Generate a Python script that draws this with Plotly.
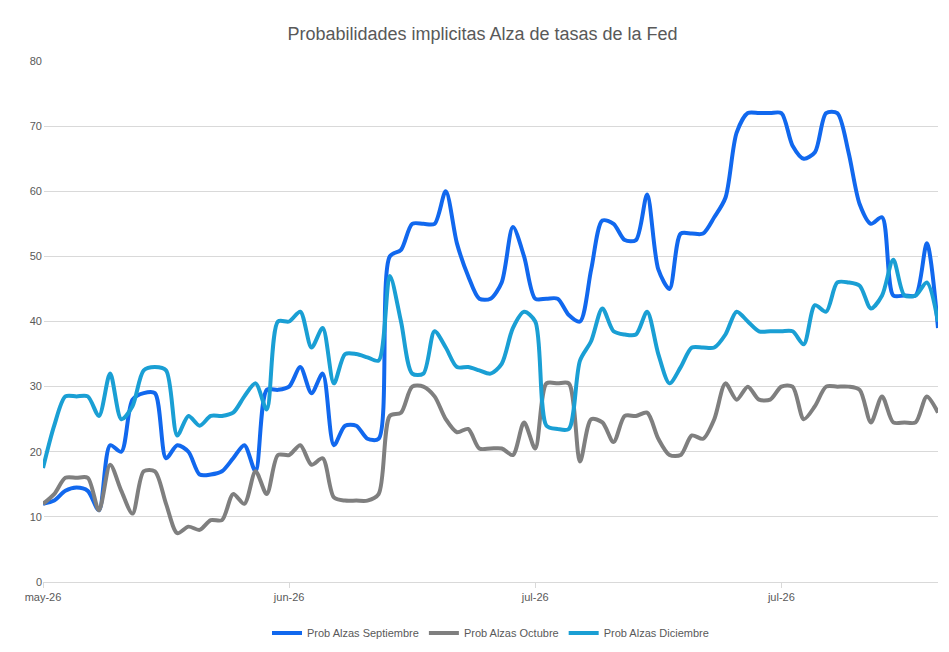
import plotly.graph_objects as go

x_idx = list(range(81))
tick_pos = [0, 22, 44, 66]
tick_labels = ["may-26", "jun-26", "jul-26", "jul-26"]

prob_sep = [12, 12.5, 14, 14.5, 14, 11, 21, 20, 28, 29, 29, 19, 21, 20, 16.5, 16.5, 17, 19, 21, 17,
            29.5, 29.5, 30, 33, 29, 32, 21, 24, 24, 22, 22, 50, 51, 55, 55, 55, 60, 52, 47, 43.5,
            43.5, 46, 54.5, 50, 43.5, 43.5, 43.5, 41, 40, 48, 55.5, 55, 52.5, 52.5, 59.5, 48, 45, 53.5, 53.5, 53.5,
            56, 59, 69, 72, 72, 72, 72, 67, 65, 66, 72, 72, 66, 58, 55, 56, 44, 44, 44, 52, 39]
prob_oct = [12, 13.5, 16, 16, 16, 11, 18, 14, 10.5, 17, 17, 12, 7.5, 8.5, 8, 9.5, 9.5, 13.5, 12, 17,
            13.5, 19.5, 19.5, 21, 18, 19, 13, 12.5, 12.5, 12.5, 13.5, 25.5, 26, 30, 30, 28.5, 25, 23, 23.5, 20.5,
            20.5, 20.5, 19.5, 24.5, 20.5, 30.5, 30.5, 30.5, 18.5, 25, 24.5, 21.5, 25.5, 25.5, 26, 22, 19.5, 19.5, 22.5, 22,
            25, 30.5, 28, 30, 28, 28, 30, 30, 25, 27, 30, 30, 30, 29.5, 24.5, 28.5, 24.5, 24.5, 24.5, 28.5, 26]
prob_dic = [17.5, 24, 28.5, 28.5, 28.5, 25.5, 32, 25, 27, 32.5, 33, 32.5, 22.5, 25.5, 24, 25.5, 25.5, 26, 28.5, 30.5,
            26.5, 40, 40, 41.5, 36, 39, 30.5, 35, 35, 34.5, 34, 47, 40, 32, 32, 38.5, 36, 33, 33, 32.5,
            32, 33.5, 39, 41.5, 40, 24, 23.5, 23.5, 34, 37, 42, 38.5, 38, 38, 41.5, 35, 30.5, 33, 36, 36,
            36, 38, 41.5, 40, 38.5, 38.5, 38.5, 38.5, 36.5, 42.5, 41.5, 46, 46, 45.5, 42, 44, 49.5, 44, 44, 46, 40]

series = [
    ("Prob Alzas Septiembre", prob_sep, "#1168ee"),
    ("Prob Alzas Octubre", prob_oct, "#7f7f7f"),
    ("Prob Alzas Diciembre", prob_dic, "#1a9fd4"),
]

fig = go.Figure()
for name, vals, color in series:
    fig.add_trace(go.Scatter(
        x=x_idx, y=vals, mode="lines", name=name,
        line=dict(color=color, width=4, shape="spline", smoothing=0.8),
    ))

fig.add_annotation(
    x=81.4, y=47.7, xref="x", yref="y", ax=-112, ay=-217,
    showarrow=True, arrowhead=2, arrowsize=1, arrowwidth=2, arrowcolor="red", text="",
)

fig.update_layout(
    width=949, height=652,
    paper_bgcolor="white", plot_bgcolor="white",
    font=dict(family="Liberation Sans, Arial", color="#595959", size=12),
    title=dict(text="Probabilidades implicitas Alza de tasas de la Fed", x=0.5, y=0.97,
               font=dict(size=18, color="#595959")),
    margin=dict(l=35, r=19, t=53, b=68),
    xaxis=dict(range=[0, 80], tickvals=tick_pos, ticktext=tick_labels, showgrid=False,
               showline=True, linecolor="#d9d9d9", ticks="outside", ticklen=5, tickcolor="#d9d9d9",
               tickfont=dict(size=11)),
    yaxis=dict(range=[0, 80], dtick=10, gridcolor="#d9d9d9", zeroline=False, tickfont=dict(size=11)),
    legend=dict(orientation="h", x=0.5, xanchor="center", y=-0.07, yanchor="top", font=dict(size=11)),
)

fig.write_html("out.html")
